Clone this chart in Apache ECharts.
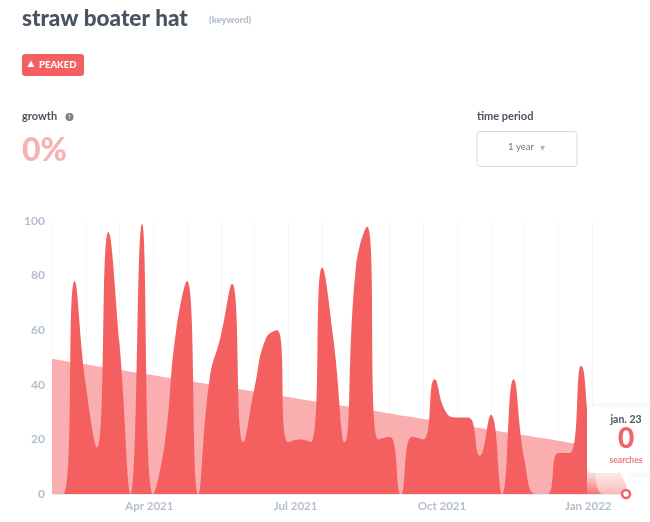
<!DOCTYPE html>
<html><head><meta charset="utf-8">
<style>html,body{margin:0;padding:0;background:#fff}#c{width:650px;height:522px}</style>
<script src="https://cdn.jsdelivr.net/npm/echarts@6/dist/echarts.min.js"></script>
</head><body><div id="c"></div>
<script>
const weeks = ["2021-01-31","2021-02-07","2021-02-14","2021-02-21","2021-02-28","2021-03-07","2021-03-14","2021-03-21","2021-03-28","Apr 2021","2021-04-11","2021-04-18","2021-04-25","2021-05-02","2021-05-09","2021-05-16","2021-05-23","2021-05-30","2021-06-06","2021-06-13","2021-06-20","2021-06-27","Jul 2021","2021-07-11","2021-07-18","2021-07-25","2021-08-01","2021-08-08","2021-08-15","2021-08-22","2021-08-29","2021-09-05","2021-09-12","2021-09-19","2021-09-26","Oct 2021","2021-10-10","2021-10-17","2021-10-24","2021-10-31","2021-11-07","2021-11-14","2021-11-21","2021-11-28","2021-12-05","2021-12-12","2021-12-19","2021-12-26","Jan 2022","2022-01-09","2022-01-16","jan. 23"];
const searches = [0,0,78,40,17,96,55,0,99,0,18,59,78,0,42,58,77,19,39,57,60,19,20,19,83,57,19,83,98,20,21,0,21,20,42,30,28,28,14,29,0,42,12,0,0,15,15,47,15,0,0,0];
const trend = [49.5,48.8,48.2,47.5,46.8,46.2,45.5,44.8,44.2,43.5,42.8,42.2,41.5,40.8,40.2,39.5,38.8,38.2,37.5,36.8,36.2,35.5,34.8,34.2,33.5,32.8,32.2,31.5,30.8,30.2,29.5,28.8,28.2,27.5,26.8,26.2,25.5,24.8,24.2,23.5,22.8,22.2,21.5,20.8,20.2,19.5,18.8,18.2,17.5,16.8,16.2,15.5];
const xTickLabels = ["Apr 2021","Jul 2021","Oct 2021","Jan 2022"];
const yMax = 100;

const RED="#f46060", FONT="Lato,sans-serif", DARK="#48535f", MUTED="#b3bfcc";
const txt=(x,y,text,size,weight,fill,align)=>({type:'text',x,y,z:50,style:{text,fontSize:size,fontWeight:weight,fill,fontFamily:FONT,align:align||'left',verticalAlign:'middle'}});

const chart=echarts.init(document.getElementById('c'),null,{renderer:'canvas'});
chart.setOption({
  animation:false,
  grid:{left:52,right:24,top:221,height:273,containLabel:false},
  xAxis:{type:'category',data:weeks,boundaryGap:false,
    axisLine:{lineStyle:{color:'#e9edf1',width:1}},axisTick:{show:false},
    splitLine:{show:true,interval:(i)=>i%3===0&&i<51,lineStyle:{color:'#f5f6f8',width:1}},
    axisLabel:{interval:0,margin:6,padding:[0,8,0,0],color:MUTED,fontFamily:FONT,fontSize:11.5,fontWeight:700,
      formatter:(v)=>xTickLabels.includes(v)?v:''}},
  yAxis:{type:'value',min:0,max:yMax,interval:20,axisLine:{show:false},axisTick:{show:false},splitLine:{show:false},
    axisLabel:{margin:7,padding:[2,0,0,0],color:MUTED,fontFamily:FONT,fontSize:12,fontWeight:700}},
  series:[
    {type:'line',data:trend,symbol:'none',lineStyle:{width:0},areaStyle:{color:'#fbaeb0',opacity:1},z:2},
    {type:'line',data:searches,symbol:'none',smooth:0.5,lineStyle:{width:0},areaStyle:{color:RED,opacity:1},z:3,
      markPoint:{silent:true,symbol:'circle',symbolSize:8,itemStyle:{color:'#fff',borderColor:'#ee6468',borderWidth:2.5},label:{show:false},z:60,
        data:[{coord:[weeks[weeks.length-1],searches[searches.length-1]]}]}}
  ],
  graphic:[
    txt(22,19,'straw boater hat',22.5,900,DARK),
    txt(209,20,'(keyword)',9.5,900,MUTED),
    {type:'rect',z:40,shape:{x:22,y:54,width:62,height:22,r:3},style:{fill:RED}},
    {type:'polygon',z:50,shape:{points:[[31,60.5],[27.5,67],[34.5,67]]},style:{fill:'#fff'}},
    txt(39,64.5,'PEAKED',9.5,900,'#fff'),
    txt(22,116,'growth',11,700,DARK),
    {type:'circle',z:40,shape:{cx:69.5,cy:117,r:4},style:{fill:'#7d7f82'}},
    txt(69.5,117,'?',6,700,'#fff','center'),
    txt(22,151,'0%',32,900,'#f5b3b4'),
    txt(477,116,'time period',11,700,DARK),
    {type:'rect',z:40,shape:{x:477,y:131.5,width:100,height:35,r:3},style:{fill:'#fff',stroke:'#d6dade',lineWidth:1}},
    txt(508,147,'1 year',9.5,400,'#6d7680'),
    {type:'polygon',z:50,shape:{points:[[540,146],[545,146],[542.5,151]]},style:{fill:'#aeb7c2'}},
    {type:'rect',z:30,shape:{x:587,y:470,width:63,height:28},style:{fill:new echarts.graphic.LinearGradient(0,0,0,1,[{offset:0,color:'rgba(255,255,255,0.9)'},{offset:1,color:'rgba(255,255,255,0)'}])}},
    {type:'rect',z:31,shape:{x:587,y:407,width:80,height:66,r:5},style:{fill:'#fff',shadowBlur:10,shadowColor:'rgba(120,120,130,0.12)'}},
    {type:'polygon',z:32,shape:{points:[[620,472],[632,472],[627,483],[625,483]]},style:{fill:'#fff'}},
    txt(626,420,'jan. 23',10.5,700,DARK,'center'),
    txt(626,439,'0',28,900,'#ee6468','center'),
    txt(626,460,'searches',8.5,700,'#ee7478','center')
  ]
});
</script></body></html>
